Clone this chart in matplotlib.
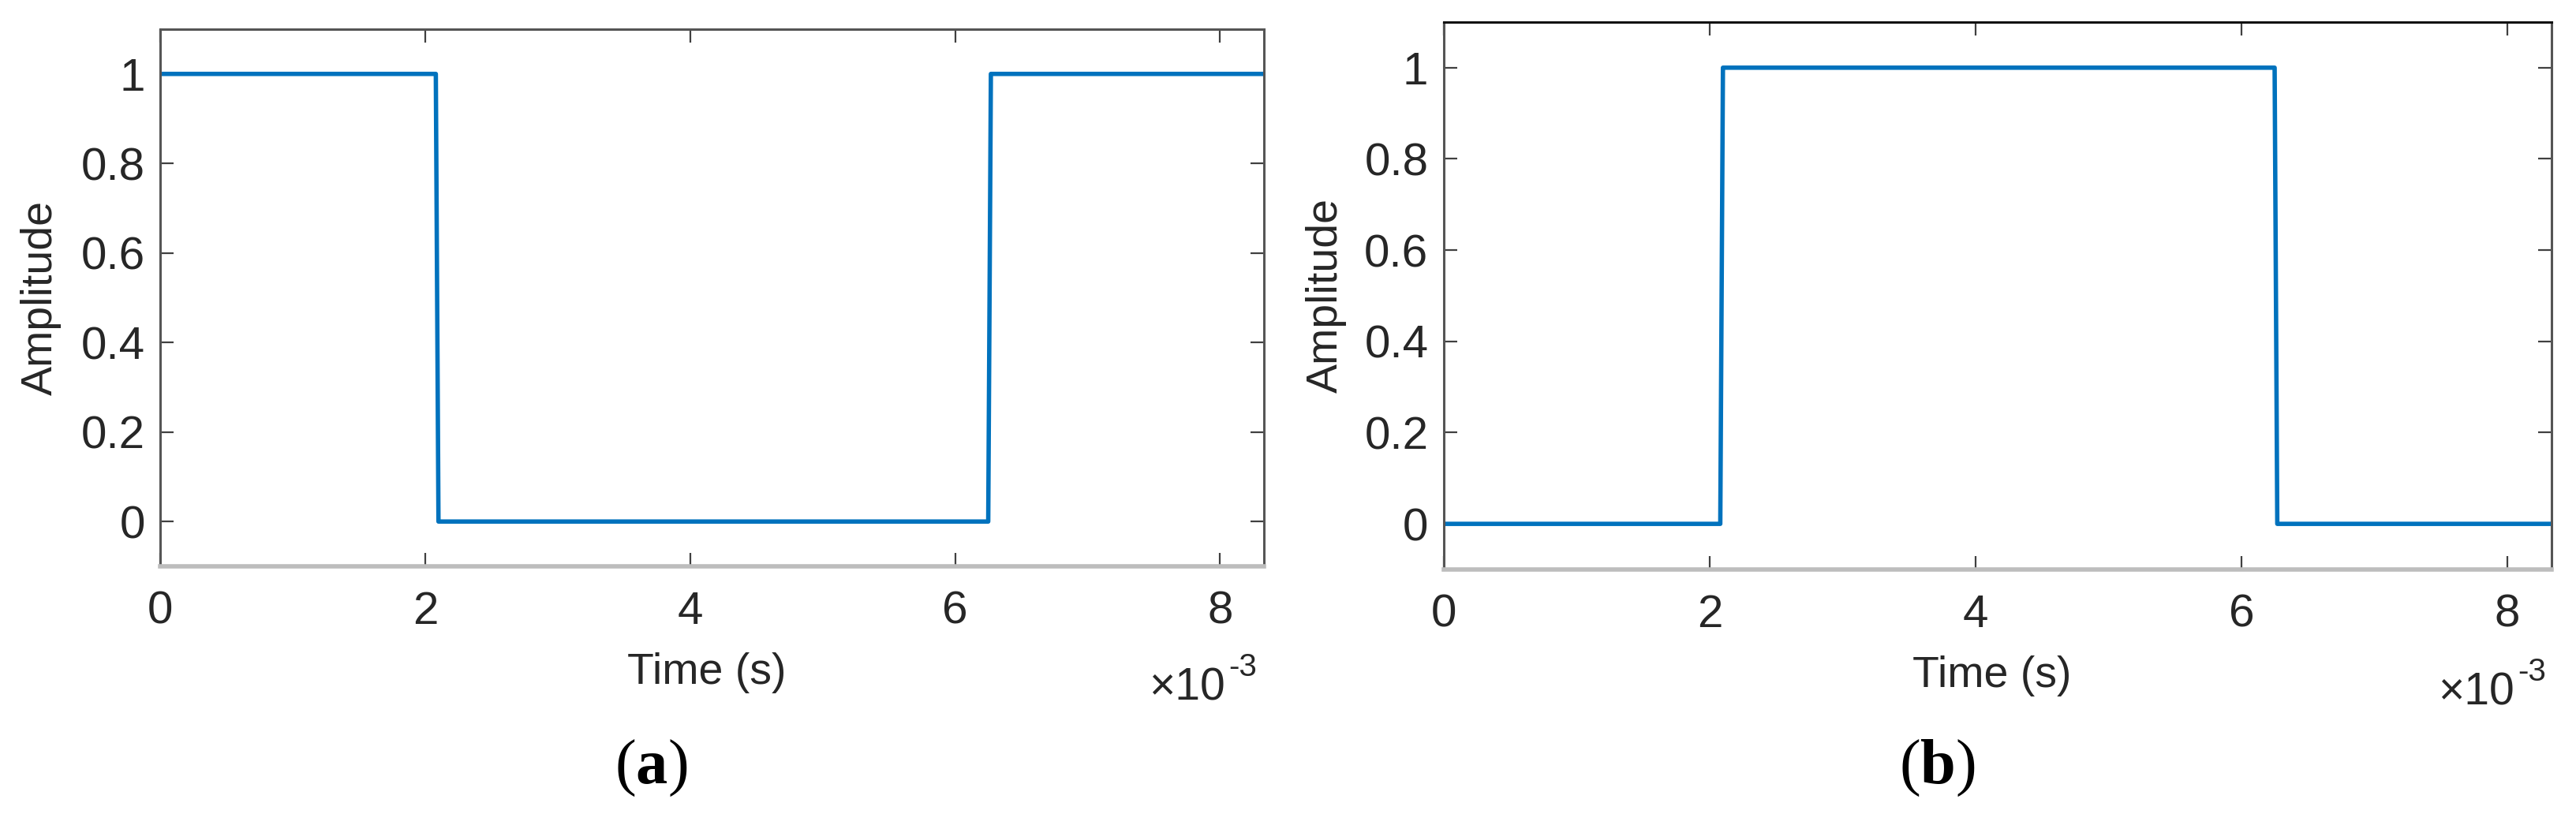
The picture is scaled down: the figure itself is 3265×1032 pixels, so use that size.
import numpy as np
import matplotlib
matplotlib.use("Agg")
import matplotlib.pyplot as plt
from matplotlib.ticker import FuncFormatter

# data (time in ms)
time_ms = [0.0, 2.08, 2.10, 6.25, 6.27, 8.333]
amp_a = [1, 1, 0, 0, 1, 1]
amp_b = [0, 0, 1, 1, 0, 0]
x_ticks_ms = [0, 2, 4, 6, 8]
y_ticks = [0, 0.2, 0.4, 0.6, 0.8, 1]
panel_labels = ["a", "b"]

plt.rcParams["font.family"] = ["Liberation Sans", "DejaVu Sans"]
plt.rcParams["mathtext.fontset"] = "custom"
plt.rcParams["mathtext.rm"] = "Liberation Serif"
plt.rcParams["mathtext.bf"] = "Liberation Serif:bold"

LINE_COLOR = "#0072BD"
TXT_COLOR = "#262626"
W, H = 3266, 1032


def px(x, y):
    # pixel position -> figure fraction
    return x / W, 1 - y / H


fig = plt.figure(figsize=(W / 100, H / 100), dpi=100)
ax_a = fig.add_axes([0.0622, 0.3043, 0.4284, 0.6599])
ax_b = fig.add_axes([0.5603, 0.3004, 0.4299, 0.6725])

t = np.array(time_ms) * 1e-3

# per panel: label coords, exponent end x / baseline y, panel label centre x
extras = {
    "a": dict(xlab=(0.495, -0.198), ylab=-0.108, exp_x=1553, exp_y=887, lab_x=825),
    "b": dict(xlab=(0.495, -0.195), ylab=-0.106, exp_x=3187, exp_y=893, lab_x=2455),
}

for ax, amp, lab in zip([ax_a, ax_b], [amp_a, amp_b], panel_labels):
    ax.plot(t, amp, color=LINE_COLOR, linewidth=4)
    ax.set_xlim(0, t[-1])
    ax.set_ylim(-0.1, 1.1)
    ax.set_xticks(np.array(x_ticks_ms) * 1e-3)
    ax.xaxis.set_major_formatter(FuncFormatter(lambda v, p: f"{v * 1e3:g}"))
    ax.set_yticks(y_ticks)
    ax.yaxis.set_major_formatter(FuncFormatter(lambda v, p: f"{v:g}"))
    ax.tick_params(direction="in", length=12, width=1.6, colors="#404040",
                   labelcolor=TXT_COLOR, labelsize=42, top=True, right=True)
    ax.tick_params(axis="x", pad=22)
    ax.tick_params(axis="y", pad=14)
    for side in ["left", "right", "top"]:
        ax.spines[side].set_color("#555555")
        ax.spines[side].set_linewidth(2.2)
    ax.spines["bottom"].set_color("#bdbdbd")
    ax.spines["bottom"].set_linewidth(4)

    ex = extras[lab]
    ax.set_xlabel("Time (s)", fontsize=40, color=TXT_COLOR, va="center")
    ax.xaxis.set_label_coords(*ex["xlab"])
    ax.set_ylabel("Amplitude", fontsize=40, color=TXT_COLOR, va="center")
    ax.yaxis.set_label_coords(ex["ylab"], 0.5)

    # exponent label, matlab style
    fig.text(*px(ex["exp_x"], ex["exp_y"]), "\u00d710", ha="right", va="baseline",
             fontsize=41, color=TXT_COLOR)
    fig.text(*px(ex["exp_x"] + 4, ex["exp_y"] - 30), "-3", ha="left",
             va="baseline", fontsize=29, color=TXT_COLOR)
    # panel label
    fig.text(*px(ex["lab_x"], 974), r"($\mathbf{%s}$)" % lab, ha="center",
             va="center", fontsize=58, family="Liberation Serif", color="black")

ax_b.spines["top"].set_color("#111111")

fig.savefig("out.png", dpi=100)
